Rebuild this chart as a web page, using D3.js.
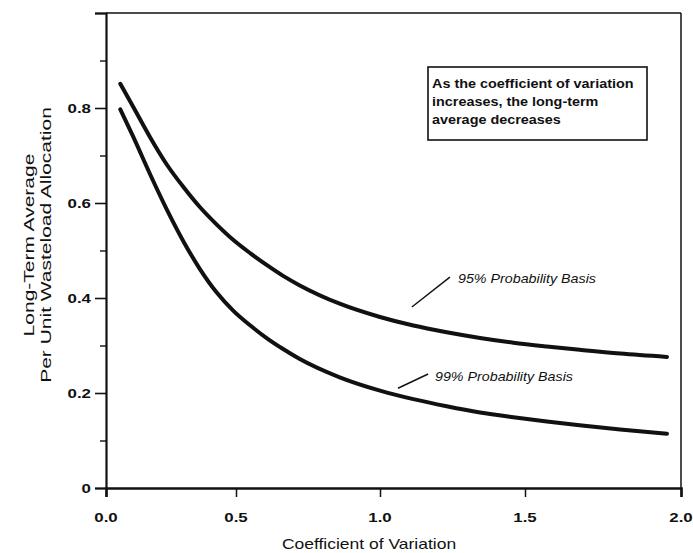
<!DOCTYPE html>
<html>
<head>
<meta charset="utf-8">
<script src="https://cdn.jsdelivr.net/npm/d3@7/dist/d3.min.js"></script>
<style>
  body { margin: 0; background: #fff; }
  svg { display: block; }
  text { font-family: "Liberation Sans", Arial, Helvetica, sans-serif; fill: #111; }
</style>
</head>
<body>
<div id="chart"></div>
<script>
// values
const cv = [0.055, 0.105, 0.17, 0.235, 0.3, 0.36, 0.425, 0.49, 0.55, 0.61, 0.665, 0.72,
            0.86, 1.0, 1.115, 1.23, 1.345, 1.46, 1.57, 1.675, 1.805, 1.955];
const basis95 = [0.851, 0.802, 0.738, 0.680, 0.632, 0.592, 0.555, 0.522, 0.494, 0.468, 0.446, 0.427,
                 0.388, 0.360, 0.342, 0.328, 0.316, 0.306, 0.298, 0.291, 0.283, 0.276];
const basis99 = [0.797, 0.739, 0.660, 0.585, 0.517, 0.462, 0.412, 0.373, 0.342, 0.314, 0.292, 0.272,
                 0.233, 0.205, 0.187, 0.172, 0.159, 0.149, 0.140, 0.132, 0.123, 0.114];

const xTicks = [0, 0.5, 1.0, 1.5, 2.0];
const xTickLabels = ["0.0", "0.5", "1.0", "1.5", "2.0"];
const yTicks = [0, 0.2, 0.4, 0.6, 0.8, 1.0];
const yTickLabels = ["0", "0.2", "0.4", "0.6", "0.8", ""];
const yMinor = [0.1, 0.3, 0.5, 0.7, 0.9];

const noteLines = ["As the coefficient of variation", "increases, the long-term", "average decreases"];
const yTitle = ["Long-Term Average", "Per Unit Wasteload Allocation"];
const xTitle = "Coefficient of Variation";

const width = 693, height = 553;

const svg = d3.select("#chart").append("svg").attr("width", width).attr("height", height);

// the scan's x axis is not quite even, so pin each tick where it sits
const x = d3.scaleLinear().domain(xTicks).range([106, 236, 380, 525, 681]);
const y = d3.scaleLinear().domain([0, 1]).range([488, 13]);

// the lettering in the scan is wide, so stretch it along its run
function wideText(g, px, py, str, anchor, sx) {
  return g.append("text")
    .attr("transform", `translate(${px},${py}) scale(${sx || 1.25},1)`)
    .attr("text-anchor", anchor || "start")
    .text(str);
}

// frame (top and right)
svg.append("line").attr("x1", x(0)).attr("x2", x(2)).attr("y1", y(1)).attr("y2", y(1))
  .attr("stroke", "#111").attr("stroke-width", 1.5);
svg.append("line").attr("x1", x(2)).attr("x2", x(2)).attr("y1", y(1)).attr("y2", y(0))
  .attr("stroke", "#111").attr("stroke-width", 1.5);

// y axis
const yAxis = svg.append("g").attr("transform", `translate(${x(0)},0)`)
  .call(d3.axisLeft(y).tickValues(yTicks).tickSize(11).tickFormat(""));
yAxis.select(".domain").attr("stroke-width", 2.2).attr("stroke", "#111");
yAxis.selectAll(".tick line").attr("stroke-width", 1.6).attr("stroke", "#111");
svg.append("g").attr("transform", `translate(${x(0)},0)`)
  .call(d3.axisLeft(y).tickValues(yMinor).tickSize(6).tickFormat(""))
  .call(g => g.select(".domain").remove())
  .selectAll(".tick line").attr("stroke-width", 1.4).attr("stroke", "#111");
const yLab = svg.append("g").attr("font-size", 13.5).attr("font-weight", "bold");
yTicks.forEach((v, i) => wideText(yLab, 91, y(v) + 5, yTickLabels[i], "end"));

// x axis
const xAxis = svg.append("g").attr("transform", `translate(0,${y(0)})`)
  .call(d3.axisBottom(x).tickValues(xTicks).tickSize(9).tickFormat(""));
xAxis.select(".domain").attr("stroke-width", 2.6).attr("stroke", "#111");
xAxis.selectAll(".tick line").attr("stroke-width", 1.5).attr("stroke", "#111");
const xLab = svg.append("g").attr("font-size", 13.5).attr("font-weight", "bold");
xTicks.forEach((v, i) => wideText(xLab, x(v), 522, xTickLabels[i], "middle"));

// titles
wideText(svg.append("g").attr("font-size", 14), 369, 549, xTitle, "middle");
const yt = svg.append("g").attr("font-size", 15)
  .attr("transform", "translate(0,245) rotate(-90)");
wideText(yt, 0, 34, yTitle[0], "middle", 1.4);
wideText(yt, 0, 51, yTitle[1], "middle", 1.4);

// curves
const line = d3.line().x(d => x(d[0])).y(d => y(d[1])).curve(d3.curveMonotoneX);
[basis95, basis99].forEach(series => {
  svg.append("path")
    .datum(cv.map((c, i) => [c, series[i]]))
    .attr("d", line)
    .attr("fill", "none").attr("stroke", "#111").attr("stroke-width", 4)
    .attr("stroke-linecap", "round");
});

// series labels with leader lines
const labels = [
  { text: "95% Probability Basis", at: [458, 283], from: [1.11, 0.381], to: [1.241, 0.444] },
  { text: "99% Probability Basis", at: [435, 381], from: [1.062, 0.21], to: [1.166, 0.24] }
];
const labG = svg.append("g").attr("font-size", 12).attr("font-style", "italic");
labels.forEach(l => {
  svg.append("line")
    .attr("x1", x(l.from[0])).attr("y1", y(l.from[1]))
    .attr("x2", x(l.to[0])).attr("y2", y(l.to[1]))
    .attr("stroke", "#111").attr("stroke-width", 1.4);
  wideText(labG, l.at[0], l.at[1], l.text, "start", 1.19);
});

// note box
svg.append("rect").attr("x", 428).attr("y", 67).attr("width", 219).attr("height", 73)
  .attr("fill", "none").attr("stroke", "#111").attr("stroke-width", 1.6);
const note = svg.append("g").attr("font-size", 12).attr("font-weight", "bold");
noteLines.forEach((t, i) => wideText(note, 432, 88 + i * 18, t, "start", 1.2));
</script>
</body>
</html>
